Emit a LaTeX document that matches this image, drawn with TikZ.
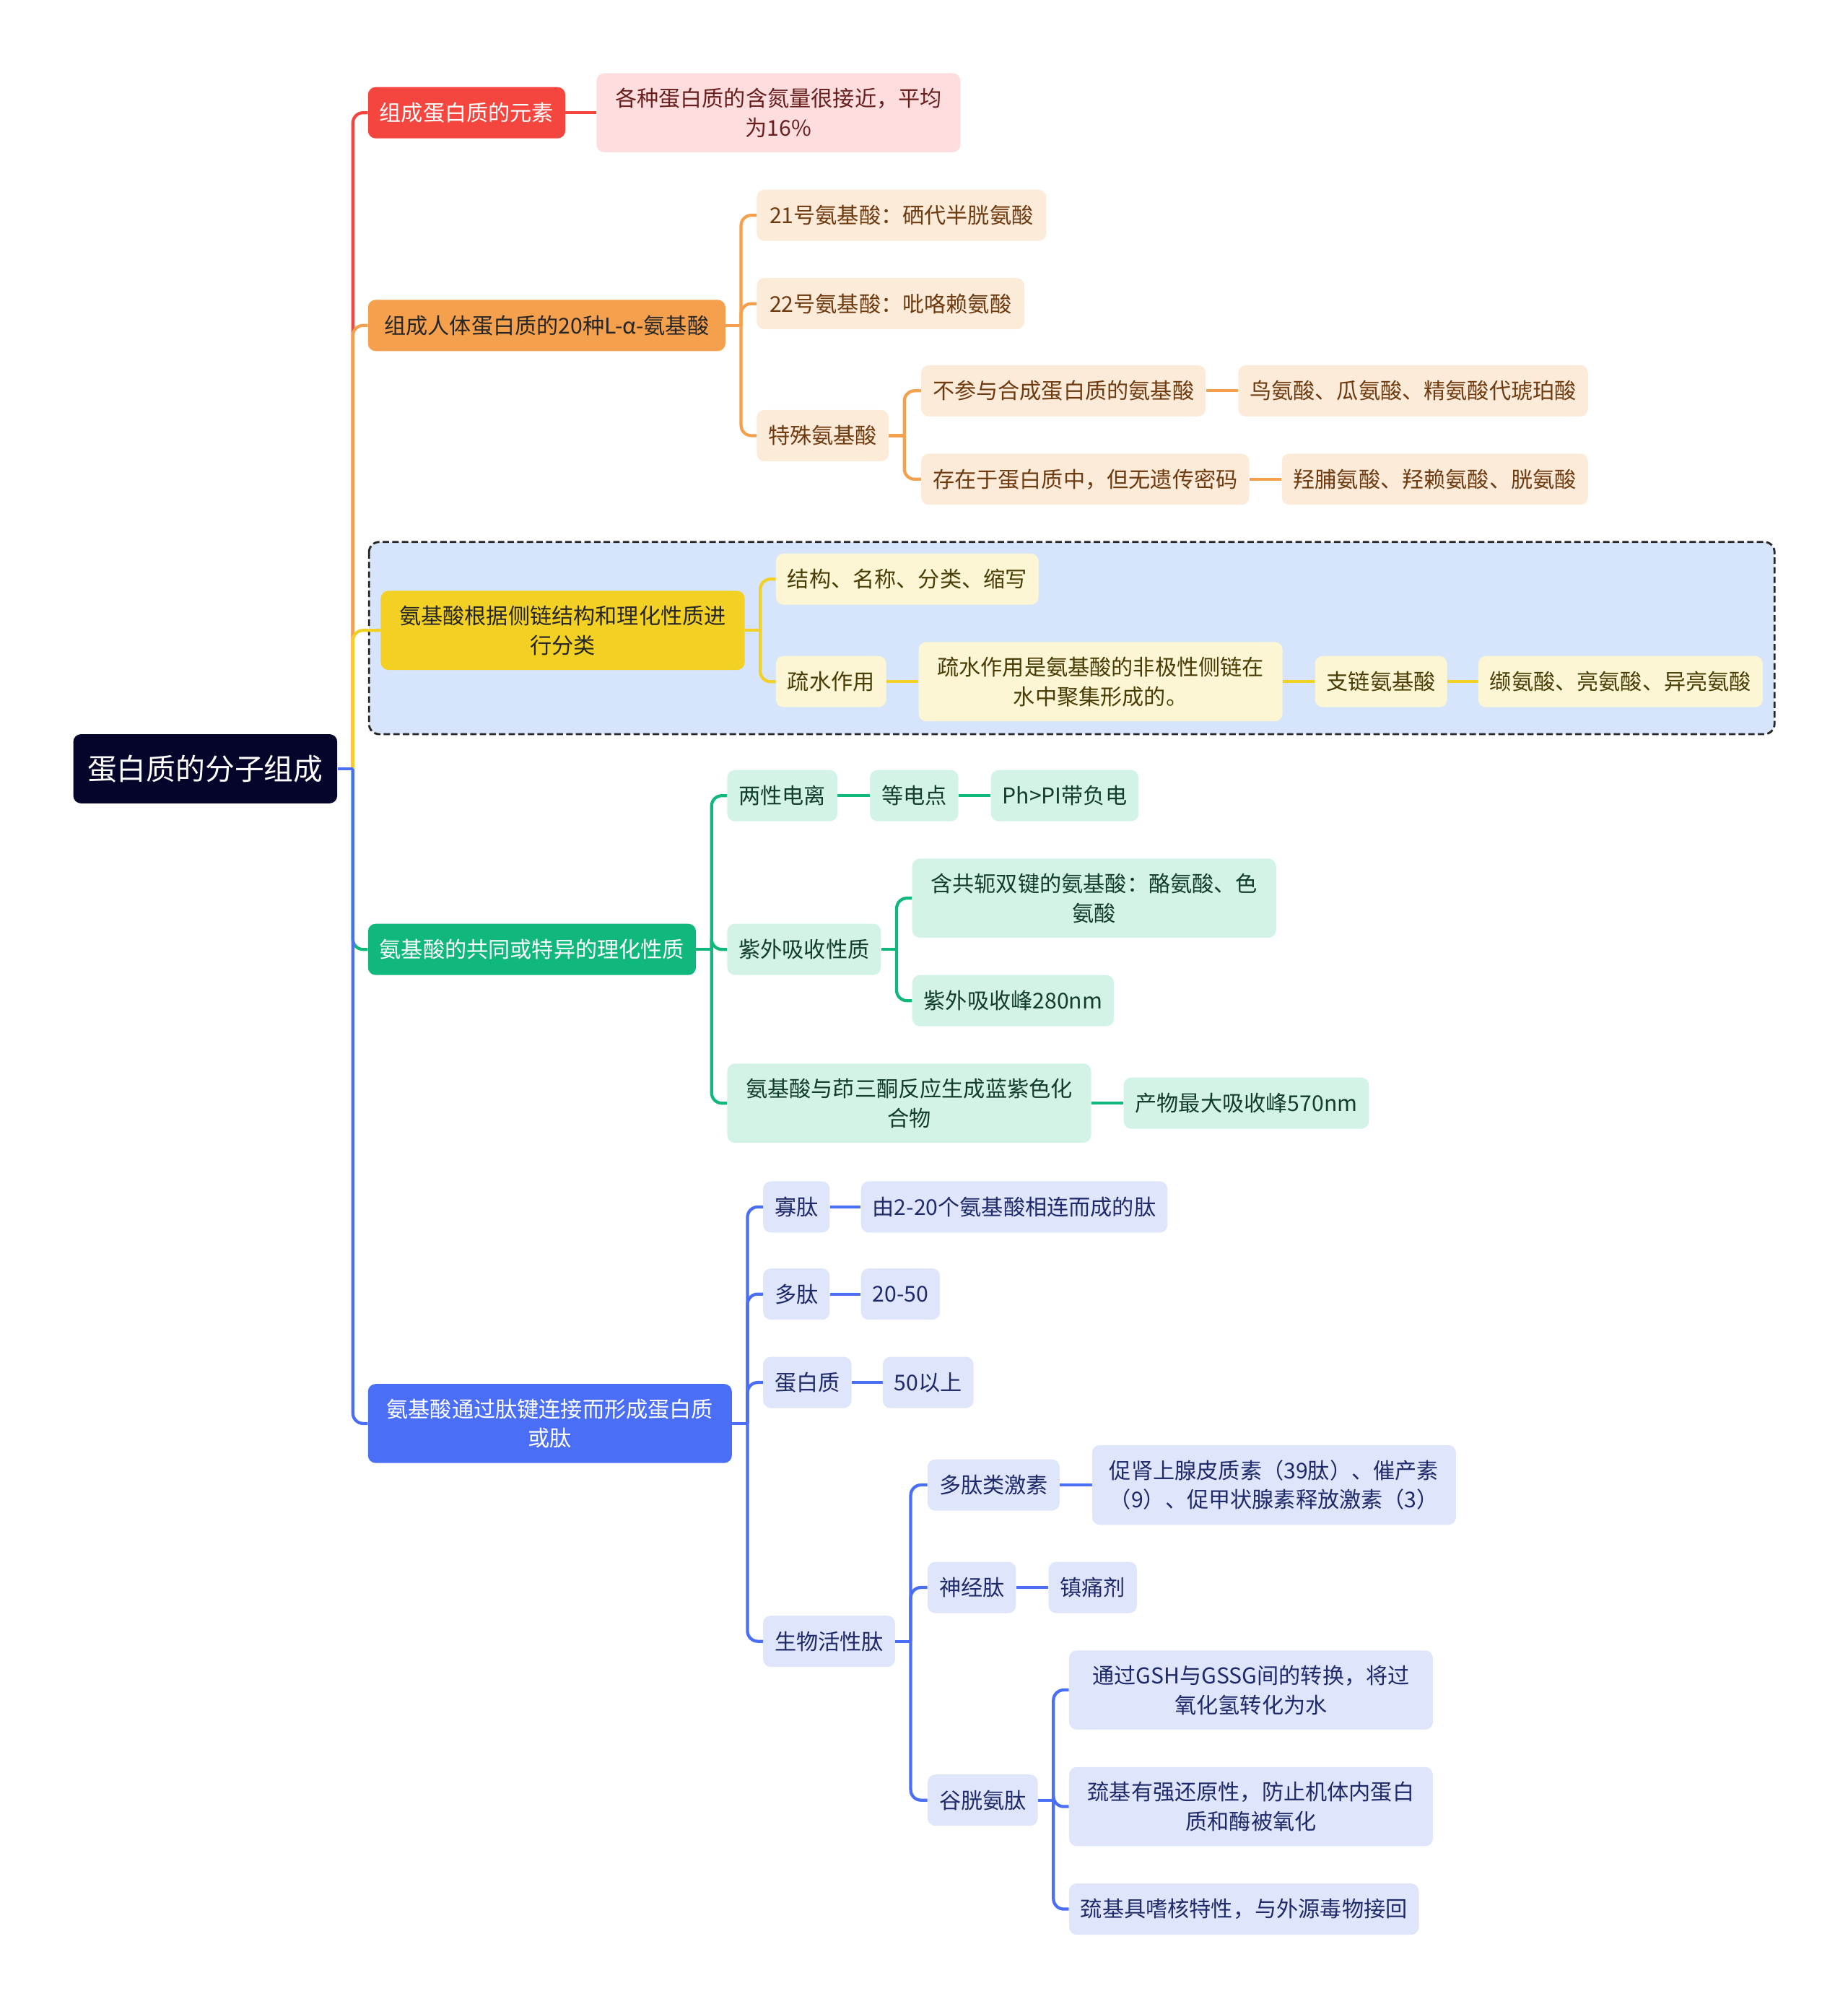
\documentclass[tikz,border=0pt]{standalone}
\usepackage{fontspec}
\setmainfont{Noto Sans CJK SC}
\usetikzlibrary{positioning}
\pgfdeclarelayer{bg}
\pgfsetlayers{bg,main}
\definecolor{cRoot}{HTML}{05052B}
\definecolor{cRed}{HTML}{F4463F}
\definecolor{cRedL}{HTML}{FDDDDD}
\definecolor{cRedT}{HTML}{6A1F1F}
\definecolor{cOr}{HTML}{F5A04C}
\definecolor{cOrL}{HTML}{FDEBD9}
\definecolor{cOrT}{HTML}{6E3A10}
\definecolor{cYel}{HTML}{F2D124}
\definecolor{cYelL}{HTML}{FCF6D5}
\definecolor{cYelT}{HTML}{4A3C05}
\definecolor{cBox}{HTML}{D6E5FB}
\definecolor{cGrn}{HTML}{10B97B}
\definecolor{cGrnL}{HTML}{D2F3E6}
\definecolor{cGrnT}{HTML}{123D2C}
\definecolor{cBlu}{HTML}{4B6EF7}
\definecolor{cBluL}{HTML}{DFE5FB}
\definecolor{cBluT}{HTML}{1F2A6B}
\begin{document}
\begin{tikzpicture}[x=1pt,y=-1pt,node distance=25pt,
  box/.style={anchor=west,rounded corners=6pt,inner xsep=9pt,inner ysep=11.5pt,
    minimum height=40pt,align=center,font=\fontsize{17}{23}\selectfont},
  two/.style={minimum width=284pt},
  rootbox/.style={box,fill=cRoot,text=white,inner xsep=11pt,minimum height=54pt,
    font=\fontsize{23}{28}\selectfont},
  mred/.style={box,fill=cRed,text=white},   sred/.style={box,fill=cRedL,text=cRedT},
  mor/.style={box,fill=cOr,text=black!85},  sor/.style={box,fill=cOrL,text=cOrT},
  myel/.style={box,fill=cYel,text=black!85},syel/.style={box,fill=cYelL,text=cYelT},
  mgrn/.style={box,fill=cGrn,text=white},   sgrn/.style={box,fill=cGrnL,text=cGrnT},
  mblu/.style={box,fill=cBlu,text=white},   sblu/.style={box,fill=cBluL,text=cBluT},
  ln/.style={line width=2.4pt,rounded corners=8pt},
  lred/.style={ln,draw=cRed},lor/.style={ln,draw=cOr},lyel/.style={ln,draw=cYel},
  lgrn/.style={ln,draw=cGrn},lblu/.style={ln,draw=cBlu}]
  \useasboundingbox (0,0) rectangle (1442,1568);

  % root and main branches
  \node[rootbox] (root) at (57,600) {蛋白质的分子组成};
  \node[mred] (ele) at (287,88) {组成蛋白质的元素};
  \node[mor,minimum width=279pt] (aa) at (287,254) {组成人体蛋白质的20种L-α-氨基酸};
  \node[myel,two] (cls) at (297,492) {氨基酸根据侧链结构和理化性质进\\行分类};
  \node[mgrn] (prop) at (287,741) {氨基酸的共同或特异的理化性质};
  \node[mblu,two] (pep) at (287,1111) {氨基酸通过肽键连接而形成蛋白质\\或肽};

  % elements
  \node[sred,two,right=24pt of ele] (ele1) {各种蛋白质的含氮量很接近，平均\\为16\%};

  % 20 amino acids
  \node[sor,minimum width=226pt] (aa21) at ([xshift=24pt]aa.east |- 0,168) {21号氨基酸：硒代半胱氨酸};
  \node[sor,minimum width=209pt] (aa22) at ([xshift=24pt]aa.east |- 0,237) {22号氨基酸：吡咯赖氨酸};
  \node[sor] (spec) at ([xshift=24pt]aa.east |- 0,340) {特殊氨基酸};
  \node[sor] (spec1) at ([xshift=25pt]spec.east |- 0,305) {不参与合成蛋白质的氨基酸};
  \node[sor,right=of spec1] (spec1a) {鸟氨酸、瓜氨酸、精氨酸代琥珀酸};
  \node[sor] (spec2) at ([xshift=25pt]spec.east |- 0,374) {存在于蛋白质中，但无遗传密码};
  \node[sor,right=of spec2] (spec2a) {羟脯氨酸、羟赖氨酸、胱氨酸};

  % classification
  \node[syel] (cls1) at ([xshift=24pt]cls.east |- 0,452) {结构、名称、分类、缩写};
  \node[syel] (hyd) at ([xshift=24pt]cls.east |- 0,532) {疏水作用};
  \node[syel,two,right=of hyd] (hyd1) {疏水作用是氨基酸的非极性侧链在\\水中聚集形成的。};
  \node[syel,right=of hyd1] (hyd2) {支链氨基酸};
  \node[syel,right=24pt of hyd2] (hyd3) {缬氨酸、亮氨酸、异亮氨酸};

  % properties
  \node[sgrn] (amph) at ([xshift=24pt]prop.east |- 0,621) {两性电离};
  \node[sgrn,right=of amph] (iep) {等电点};
  \node[sgrn,right=of iep] (neg) {Ph>PI带负电};
  \node[sgrn] (uv) at ([xshift=24pt]prop.east |- 0,741) {紫外吸收性质};
  \node[sgrn,two] (uv1) at ([xshift=24pt]uv.east |- 0,701) {含共轭双键的氨基酸：酪氨酸、色\\氨酸};
  \node[sgrn] (uv2) at ([xshift=24pt]uv.east |- 0,781) {紫外吸收峰280nm};
  \node[sgrn,two] (nin) at ([xshift=24pt]prop.east |- 0,861) {氨基酸与茚三酮反应生成蓝紫色化\\合物};
  \node[sgrn,right=of nin] (nin1) {产物最大吸收峰570nm};

  % peptides
  \node[sblu] (oligo) at ([xshift=24pt]pep.east |- 0,942) {寡肽};
  \node[sblu,right=24pt of oligo] (oligo1) {由2-20个氨基酸相连而成的肽};
  \node[sblu] (poly) at ([xshift=24pt]pep.east |- 0,1010) {多肽};
  \node[sblu,right=24pt of poly] (poly1) {20-50};
  \node[sblu] (prot) at ([xshift=24pt]pep.east |- 0,1079) {蛋白质};
  \node[sblu,right=24pt of prot] (prot1) {50以上};
  \node[sblu] (bio) at ([xshift=24pt]pep.east |- 0,1281) {生物活性肽};
  \node[sblu] (horm) at ([xshift=25pt]bio.east |- 0,1159) {多肽类激素};
  \node[sblu,two,right=of horm] (horm1) {促肾上腺皮质素（39肽）、催产素\\（9）、促甲状腺素释放激素（3）};
  \node[sblu] (neuro) at ([xshift=25pt]bio.east |- 0,1239) {神经肽};
  \node[sblu,right=of neuro] (neuro1) {镇痛剂};
  \node[sblu] (gsh) at ([xshift=25pt]bio.east |- 0,1405) {谷胱氨肽};
  \node[sblu,two] (gsh1) at ([xshift=24pt]gsh.east |- 0,1319) {通过GSH与GSSG间的转换，将过\\氧化氢转化为水};
  \node[sblu,two] (gsh2) at ([xshift=24pt]gsh.east |- 0,1410) {巯基有强还原性，防止机体内蛋白\\质和酶被氧化};
  \node[sblu] (gsh3) at ([xshift=24pt]gsh.east |- 0,1490) {巯基具嗜核特性，与外源毒物接回};

  \begin{pgfonlayer}{bg}
    % dashed frame round the classification branch
    \draw[fill=cBox,draw=black!85,line width=1.6pt,dash pattern=on 5pt off 2.5pt,
      rounded corners=8pt] (288,423) rectangle (1385,573);
    % trunk
    \coordinate (rootf) at ([xshift=12pt]root.east);
    \draw[lred] (rootf) |- (ele.west);
    \draw[lor] (rootf) |- (aa.west);
    \draw[lyel] (rootf) |- (cls.west);
    \draw[lgrn] (rootf) |- (prop.west);
    \draw[lblu] (rootf) |- (pep.west);
    \draw[lblu] (root.east) -- (rootf);
    % red
    \draw[lred] (ele.east) -- (ele1.west);
    % orange
    \coordinate (aaf) at ([xshift=12pt]aa.east);
    \draw[lor] (aa.east) -- (aaf);
    \foreach \c in {aa21,aa22,spec} \draw[lor] (aaf) |- (\c.west);
    \coordinate (specf) at ([xshift=12pt]spec.east);
    \draw[lor] (spec.east) -- (specf);
    \foreach \c in {spec1,spec2} \draw[lor] (specf) |- (\c.west);
    \draw[lor] (spec1.east) -- (spec1a.west);
    \draw[lor] (spec2.east) -- (spec2a.west);
    % yellow
    \coordinate (clsf) at ([xshift=12pt]cls.east);
    \draw[lyel] (cls.east) -- (clsf);
    \foreach \c in {cls1,hyd} \draw[lyel] (clsf) |- (\c.west);
    \draw[lyel] (hyd.east) -- (hyd1.west);
    \draw[lyel] (hyd1.east) -- (hyd2.west);
    \draw[lyel] (hyd2.east) -- (hyd3.west);
    % green
    \coordinate (propf) at ([xshift=12pt]prop.east);
    \draw[lgrn] (prop.east) -- (propf);
    \foreach \c in {amph,uv,nin} \draw[lgrn] (propf) |- (\c.west);
    \draw[lgrn] (amph.east) -- (iep.west);
    \draw[lgrn] (iep.east) -- (neg.west);
    \coordinate (uvf) at ([xshift=12pt]uv.east);
    \draw[lgrn] (uv.east) -- (uvf);
    \foreach \c in {uv1,uv2} \draw[lgrn] (uvf) |- (\c.west);
    \draw[lgrn] (nin.east) -- (nin1.west);
    % blue
    \coordinate (pepf) at ([xshift=12pt]pep.east);
    \draw[lblu] (pep.east) -- (pepf);
    \foreach \c in {oligo,poly,prot,bio} \draw[lblu] (pepf) |- (\c.west);
    \draw[lblu] (oligo.east) -- (oligo1.west);
    \draw[lblu] (poly.east) -- (poly1.west);
    \draw[lblu] (prot.east) -- (prot1.west);
    \coordinate (biof) at ([xshift=12pt]bio.east);
    \draw[lblu] (bio.east) -- (biof);
    \foreach \c in {horm,neuro,gsh} \draw[lblu] (biof) |- (\c.west);
    \draw[lblu] (horm.east) -- (horm1.west);
    \draw[lblu] (neuro.east) -- (neuro1.west);
    \coordinate (gshf) at ([xshift=12pt]gsh.east);
    \draw[lblu] (gsh.east) -- (gshf);
    \foreach \c in {gsh1,gsh2,gsh3} \draw[lblu] (gshf) |- (\c.west);
  \end{pgfonlayer}
\end{tikzpicture}
\end{document}
